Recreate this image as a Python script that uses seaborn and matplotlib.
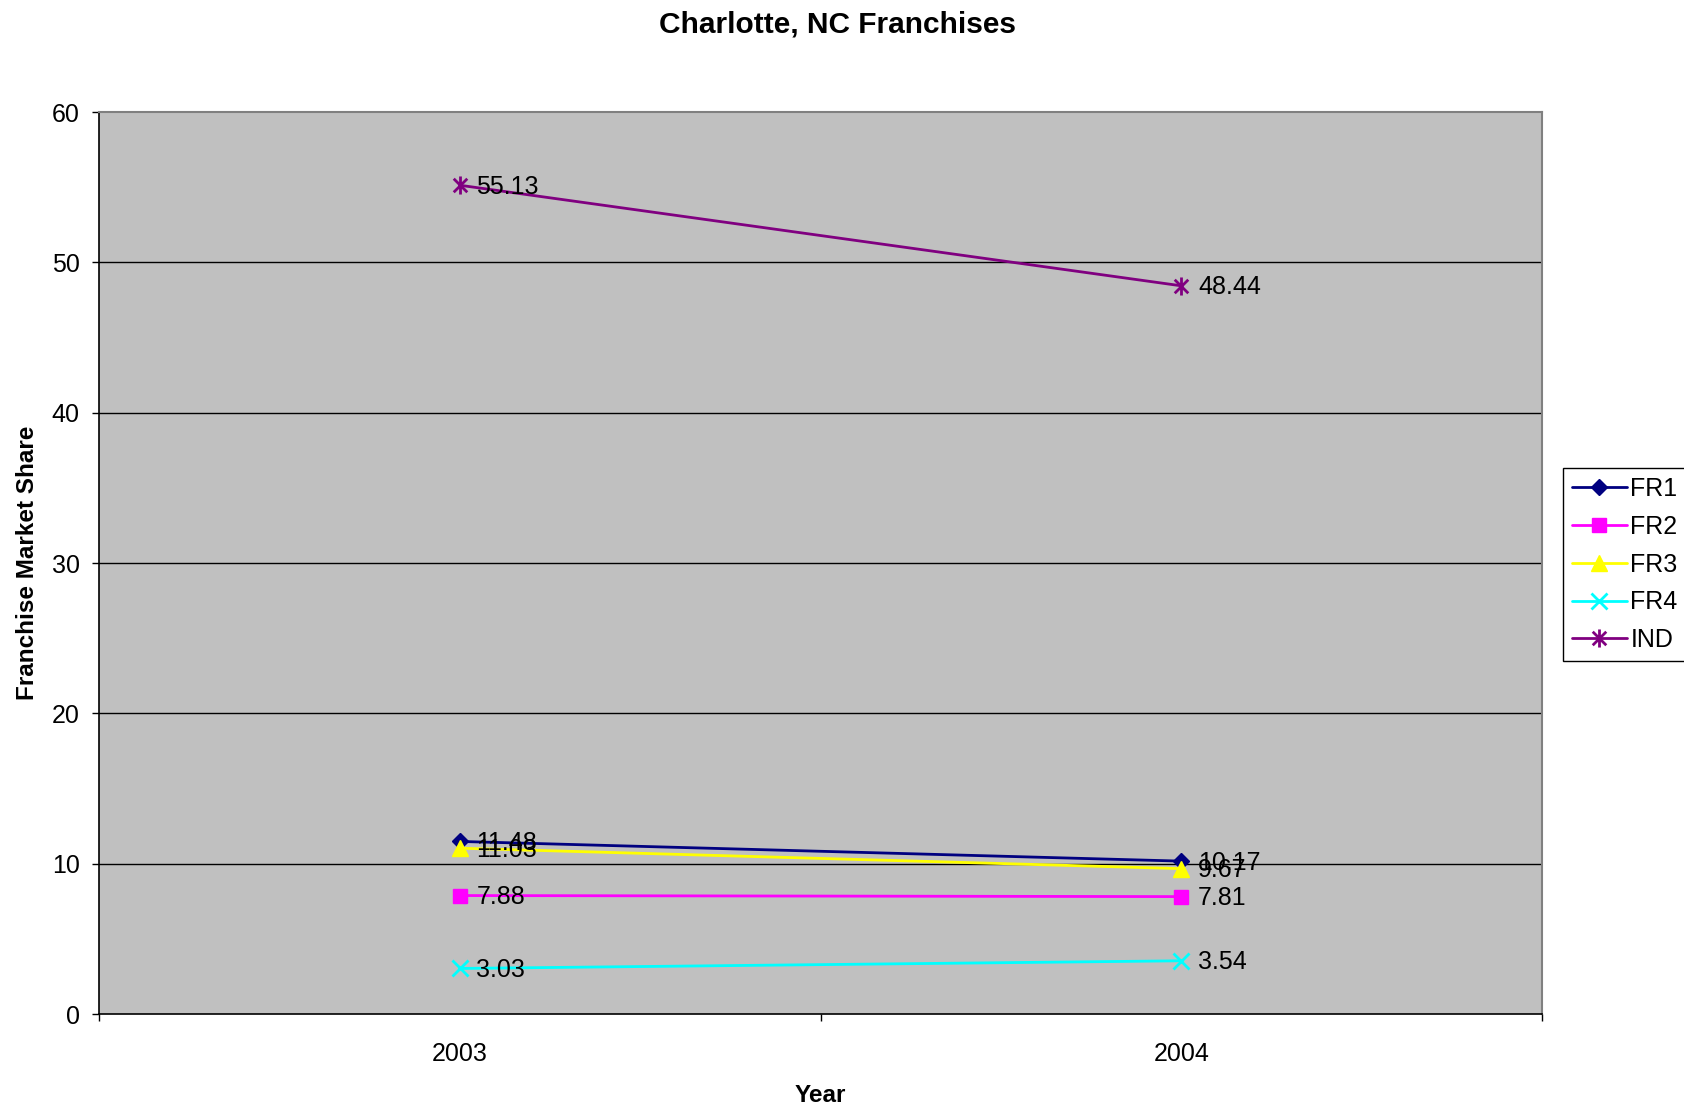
import matplotlib
matplotlib.use("Agg")
import matplotlib.pyplot as plt
from matplotlib.path import Path
import seaborn as sns
import pandas as pd

# Market share by franchise group, Charlotte NC
years = ["2003", "2004"]
series_names = ["FR1", "FR2", "FR3", "FR4", "IND"]
fr1 = [11.48, 10.17]
fr2 = [7.88, 7.81]
fr3 = [11.03, 9.67]
fr4 = [3.03, 3.54]
ind = [55.13, 48.44]
y_ticks = [0, 10, 20, 30, 40, 50, 60]

# star marker: an X crossed by a vertical stroke
star = Path([(0, -1), (0, 1), (-0.75, -0.75), (0.75, 0.75), (-0.75, 0.75), (0.75, -0.75)],
            [Path.MOVETO, Path.LINETO, Path.MOVETO, Path.LINETO, Path.MOVETO, Path.LINETO])

colors = {"FR1": "#000080", "FR2": "#FF00FF", "FR3": "#FFFF00",
          "FR4": "#00FFFF", "IND": "#800080"}
markers = {"FR1": "D", "FR2": "s", "FR3": "^", "FR4": "x", "IND": star}
msizes = {"FR1": 8, "FR2": 10, "FR3": 11, "FR4": 11, "IND": 13}

rows = []
for name, vals in zip(series_names, [fr1, fr2, fr3, fr4, ind]):
    for i, (yr, v) in enumerate(zip(years, vals)):
        rows.append({"pos": i, "Year": yr, "series": name, "share": v})
df = pd.DataFrame(rows)

sns.set_theme(style="white")
plt.rcParams["font.family"] = ["Liberation Sans", "DejaVu Sans"]
plt.rcParams.update({"text.color": "black", "axes.labelcolor": "black",
                     "xtick.color": "black", "ytick.color": "black"})

fig = plt.figure(figsize=(16.84, 11.07), dpi=100)
ax = fig.add_axes([0.0588, 0.084, 0.8569, 0.8148])
ax.set_facecolor("#C0C0C0")

# horizontal gridlines
for t in y_ticks[1:-1]:
    ax.axhline(t, color="black", lw=1.0, zorder=1)

for name in series_names:
    sub = df[df["series"] == name]
    sns.lineplot(data=sub, x="pos", y="share", ax=ax, color=colors[name],
                 marker=markers[name], markersize=msizes[name],
                 markeredgecolor=colors[name], markeredgewidth=2 if name in ("FR4", "IND") else 1,
                 linewidth=2, label=name, zorder=3, legend=False)
    for _, r in sub.iterrows():
        ax.annotate(f"{r['share']:.2f}", (r["pos"], r["share"]),
                    xytext=(12, -1), textcoords="offset points",
                    ha="left", va="center", fontsize=18, color="black", zorder=4)

ax.set_xlim(-0.5, 1.5)
ax.set_ylim(0, 60)
ax.set_yticks(y_ticks)
ax.set_yticklabels([str(t) for t in y_ticks], fontsize=18)
ax.set_xticks([0, 1])
ax.set_xticklabels(years, fontsize=18)
ax.set_xticks([-0.5, 0.5, 1.5], minor=True)
ax.tick_params(axis="x", which="major", length=0, pad=20)
ax.tick_params(axis="x", which="minor", length=5, width=1, color="black", direction="out", bottom=True)
ax.tick_params(axis="y", which="major", length=5, width=1, color="black", direction="out", left=True, pad=9)

ax.set_xlabel("Year", fontsize=17.5, fontweight="bold", labelpad=13)
ax.set_ylabel("Franchise Market Share", fontsize=17.5, fontweight="bold", labelpad=9)
fig.suptitle("Charlotte, NC Franchises", fontsize=21.5, fontweight="bold",
             x=0.4975, y=0.978, va="center")

for side in ["left", "bottom"]:
    ax.spines[side].set_color("black")
    ax.spines[side].set_linewidth(1.2)
for side in ["top", "right"]:
    ax.spines[side].set_color("#808080")
    ax.spines[side].set_linewidth(1.5)

handles, labels = ax.get_legend_handles_labels()
leg = fig.legend(handles, labels, loc="upper left", bbox_to_anchor=(0.928, 0.577),
                 fontsize=18, frameon=True, fancybox=False, framealpha=1,
                 edgecolor="black", handlelength=2.2, handletextpad=0.15,
                 borderpad=0.35, labelspacing=0.55, borderaxespad=0)
leg.get_frame().set_linewidth(1.0)

fig.savefig("out.png", dpi=100)
